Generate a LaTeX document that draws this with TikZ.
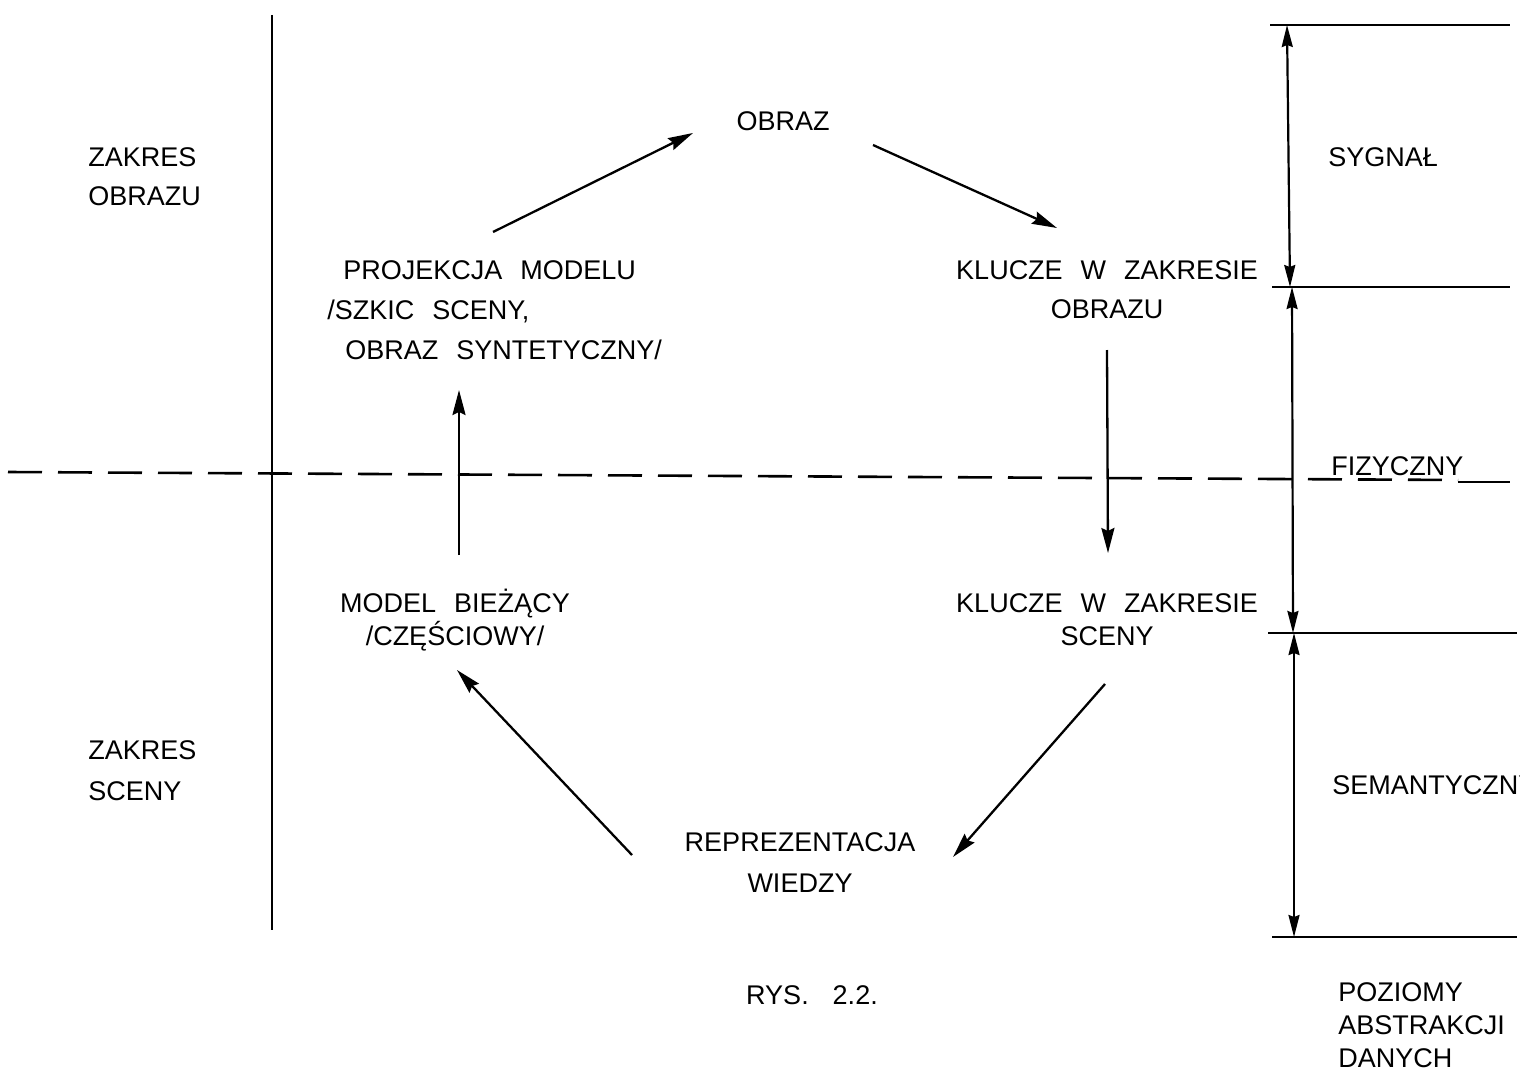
\documentclass[tikz,border=0pt]{standalone}
\usepackage{fontspec}
\setmainfont{Liberation Sans}[WordSpace=2.4]
\usetikzlibrary{arrows.meta}
\begin{document}
\begin{tikzpicture}[x=0.5pt,y=-0.5pt,
  lbl/.style={inner sep=0pt, font=\fontsize{13.5}{19.5}\selectfont},
  lblc/.style={lbl, align=center},
  lbll/.style={lbl, align=left, anchor=west},
  frame/.style={line width=1.2pt},
  arr/.style={line width=1.15pt, -{Stealth[length=12.5pt,width=6.5pt,inset=1.5pt]}},
  dim/.style={line width=1.1pt, {Stealth[length=11pt,width=5.5pt,inset=1pt]}-{Stealth[length=11pt,width=5.5pt,inset=1pt]}},
  dashline/.style={line width=1.3pt, dash pattern=on 17pt off 8pt}]
\useasboundingbox (0,0) rectangle (1520,1070);

% frame lines
\draw[frame] (272,15) -- (272,930);
\draw[dashline] (8,472) -- (1458,480);
\draw[frame] (1458,482) -- (1510,482);
\draw[frame] (1270,25) -- (1510,25);
\draw[frame] (1272,287) -- (1510,287);
\draw[frame] (1268,633) -- (1517,633);
\draw[frame] (1272,937) -- (1517,937);

% level labels and dimension arrows
\coordinate (l0) at (1287,25);
\coordinate (l1) at (1290,287);
\coordinate (l1b) at (1292,287);
\coordinate (l2) at (1293,633);
\coordinate (l2b) at (1294,633);
\coordinate (l3) at (1294,937);
\draw[dim] (l0) -- (l1);
\draw[dim] (l1b) -- (l2);
\draw[dim] (l2b) -- (l3);

\node[lbll] (syg) at (1328,157) {SYGNAŁ};
\node[lbll] (fiz) at (1331,466) {FIZYCZNY};
\node[lbll] (sem) at (1332,785) {SEMANTYCZNY};
\node[lbll, font=\fontsize{13.5}{16.5}\selectfont] (poz) at (1338,1025) {POZIOMY\\ABSTRAKCJI\\DANYCH};

% domain labels
\node[lbll] (zo) at (88,177) {ZAKRES\\OBRAZU};
\node[lbll, font=\fontsize{13.5}{20.5}\selectfont] (zs) at (88,771) {ZAKRES\\SCENY};

% main nodes
\node[lblc] (obraz) at (783,121) {OBRAZ};
\node[lblc] (kluo) at (1107,290) {KLUCZE W ZAKRESIE\\OBRAZU};
\node[lbll, font=\fontsize{13.5}{20}\selectfont] (proj) at (327,310)
  {\hspace*{8pt}PROJEKCJA MODELU\\/SZKIC SCENY,\\\hspace*{9pt}OBRAZ SYNTETYCZNY/};
\node[lblc, font=\fontsize{13.5}{16.5}\selectfont] (model) at (455,620) {MODEL BIEŻĄCY\\/CZĘŚCIOWY/};
\node[lblc, font=\fontsize{13.5}{16.5}\selectfont] (klus) at (1107,620) {KLUCZE W ZAKRESIE\\SCENY};
\node[lblc, font=\fontsize{13.5}{20.5}\selectfont] (rep) at (800,863) {REPREZENTACJA\\WIEDZY};
\node[lblc] (rys) at (812,995) {RYS.\hspace{12pt}2.2.};

% cycle arrows
\draw[arr] ([shift={(166,-78)}]proj.west) -- ([shift={(-90,12)}]obraz.center);
\draw[arr] ([shift={(90,24)}]obraz.center) -- ([shift={(-50,-62)}]kluo.center);
\draw[arr] ([shift={(0,60)}]kluo.center) -- ([shift={(1,-67)}]klus.center);
\draw[arr] ([shift={(-2,64)}]klus.center) -- ([shift={(153,-6)}]rep.center);
\draw[arr] ([shift={(-168,-8)}]rep.center) -- ([shift={(2,50)}]model.center);
\draw[arr] ([shift={(4,-65)}]model.center) -- ([shift={(132,80)}]proj.west);
\end{tikzpicture}
\end{document}
